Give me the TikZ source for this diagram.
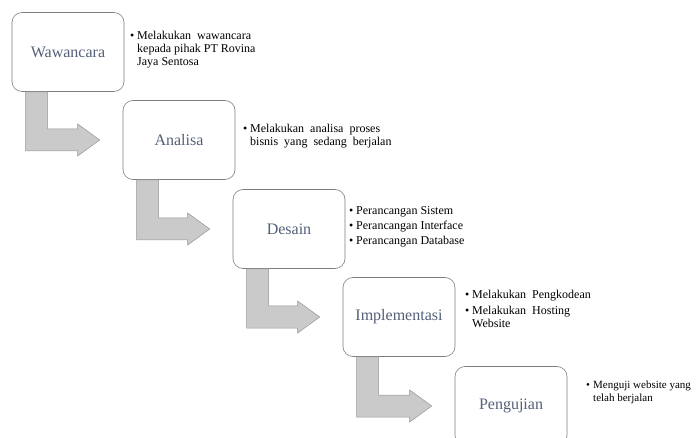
\documentclass[tikz,border=0pt]{standalone}
\usepackage{fontspec}
\setmainfont{Liberation Serif}
\usepackage{xcolor}
\usetikzlibrary{calc}
\definecolor{labelblue}{RGB}{84,96,120}
\definecolor{boxline}{RGB}{125,125,125}
\definecolor{arrowfill}{RGB}{202,202,202}
\definecolor{arrowline}{RGB}{150,150,150}
\newcommand{\bul}{\makebox[7pt][l]{\textbullet}}
\newcommand{\ind}{\hspace*{7pt}}

\begin{document}
\begin{tikzpicture}[x=1pt, y=-1pt,
    stage/.style={rectangle, rounded corners=10pt, draw=boxline, fill=white, line width=0.6pt,
                  minimum width=112pt, minimum height=79pt, inner sep=0pt,
                  font=\fontsize{16}{18}\selectfont, text=labelblue},
    notes/.style={anchor=north west, inner sep=0pt, align=left,
                  font=\fontsize{12}{13}\selectfont},
    elbow/.style={fill=arrowfill, draw=arrowline, line width=0.5pt, line join=miter}
]
\useasboundingbox (0,0) rectangle (696,438);
\clip (0,0) rectangle (696,438);

% stages
\node[stage] (w) at (68,52)   {Wawancara};
\node[stage] (a) at (179,140) {Analisa};
\node[stage] (d) at (289,229) {Desain};
\node[stage] (i) at (399,317) {Implementasi};
\node[stage] (p) at (511,406) {Pengujian};

% bent arrows between stages
\foreach \s/\t in {w/a, a/d, d/i, i/p}{
  \draw[elbow] ($(\s.south west)+(14,0)$) |- ($(\t.west)+(-45,11)$)
      -- ++(0,5) -- ($(\t.west)+(-23,0)$) -- ($(\t.west)+(-45,-16)$)
      -- ++(0,5) -| ($(\s.south west)+(36,0)$) -- cycle;
}

% notes
\node[notes] (wn) at (130,31) {\bul Melakukan\ \ wawancara\\\ind kepada pihak PT Rovina\\\ind Jaya Sentosa};
\node[notes] (an) at (243,124) {\bul Melakukan\ \ analisa\ \ proses\\\ind bisnis\ \ yang\ \ sedang\ \ berjalan};
\node[notes] (dn) at (349,206) {\bul Perancangan Sistem\\[2pt]\bul Perancangan Interface\\[2pt]\bul Perancangan Database};
\node[notes] (in) at (465,290) {\bul Melakukan\ \ Pengkodean\\[3pt]\bul Melakukan\ \ Hosting\\\ind Website};
\node[notes, font=\fontsize{11}{13}\selectfont] (pn) at (586,381) {\bul Menguji website yang\\\ind telah berjalan};
\end{tikzpicture}
\end{document}
